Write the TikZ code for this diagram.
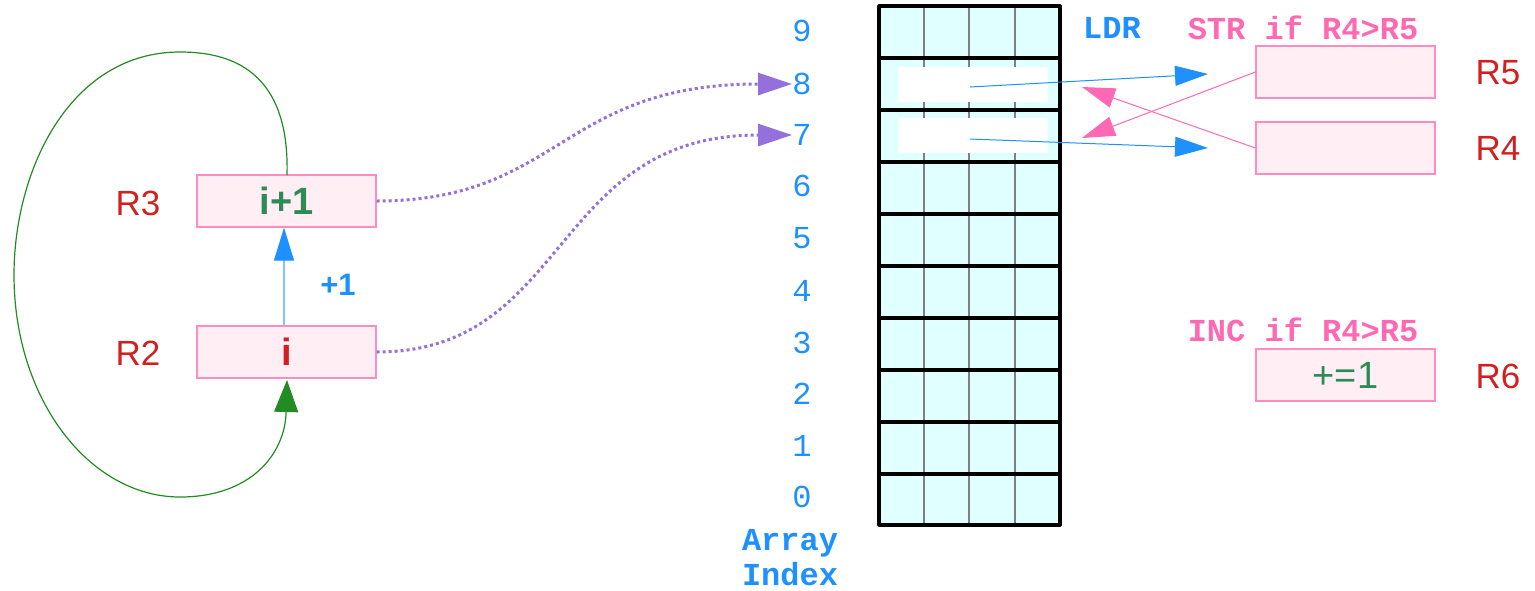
\documentclass[tikz,border=0pt]{standalone}
\usepackage{fontspec}
\setmainfont{Liberation Sans}
\setmonofont{Liberation Mono}
\usetikzlibrary{arrows.meta}
\definecolor{cellfill}{HTML}{E0FFFF}
\definecolor{regfill}{HTML}{FFEEF3}
\definecolor{regline}{HTML}{FF8CC0}
\definecolor{hotpink}{HTML}{FF69B4}
\definecolor{dblue}{HTML}{1E90FF}
\definecolor{fgreen}{HTML}{228B22}
\definecolor{sgreen}{HTML}{2E8B57}
\definecolor{regred}{HTML}{D02020}
\definecolor{mpurple}{HTML}{9370DB}
\tikzset{
  reg/.style={draw=regline, fill=regfill, line width=0.6pt, minimum width=89.5pt, minimum height=26pt, inner sep=0pt},
  reglabel/.style={text=regred, font=\fontsize{17.5}{20}\selectfont},
  idx/.style={text=dblue, font=\ttfamily\fontsize{16}{18}\selectfont},
  cmd/.style={font=\ttfamily\bfseries\fontsize{16}{18}\selectfont},
  bluearrow/.style={draw=dblue, line width=0.5pt, -{Triangle[length=16.5pt,width=10pt]}},
  pinkarrow/.style={draw=hotpink, line width=0.5pt, -{Triangle[length=16.5pt,width=10pt]}},
  ptr/.style={draw=mpurple, line width=1.5pt, dash pattern=on 1.5pt off 1.5pt, -{Triangle[length=17pt,width=11pt]}},
}
\begin{document}
\begin{tikzpicture}[x=0.5pt, y=-0.5pt]
\useasboundingbox (0,0) rectangle (1535,590);

% memory array: ten rows of four cells
\fill[cellfill] (879,6) rectangle (1060,525);
\foreach \x in {924,969,1015}
  \draw[gray, line width=0.6pt] (\x,6) -- (\x,525);
% highlighted slots in rows 8 and 7
\fill[white] (898,67) rectangle (1048,102);
\fill[white] (898,118) rectangle (1048,153);
\foreach \y in {58,110,162,214,266,318,370,422,474}
  \draw[black, line width=1.6pt] (879,\y) -- (1060,\y);
\draw[black, line width=1.6pt, line join=round] (879,6) rectangle (1060,525);

% index column
\foreach \i/\y in {9/31,8/84,7/135,6/186,5/238,4/291,3/343,2/394,1/446,0/497}
  \node[idx] (idx\i) at (802,\y) {\i};
\node[idx, font=\ttfamily\bfseries\fontsize{16}{17.5}\selectfont, align=center] (arrlbl) at (790,558) {Array\\Index};

% registers
\node[reg] (r3) at (286.5,201) {\textcolor{sgreen}{\fontsize{19}{20}\selectfont\bfseries i+1}};
\node[reg] (r2) at (286.5,352) {\textcolor{regred}{\fontsize{19}{20}\selectfont\bfseries i}};
\node[reg] (r5) at (1345.5,72) {};
\node[reg] (r4) at (1345.5,148) {};
\node[reg] (r6) at (1345.5,375) {\textcolor{sgreen}{\fontsize{19}{20}\selectfont +=1}};

\node[reglabel] (l3) at (138,203) {R3};
\node[reglabel] (l2) at (138,353) {R2};
\node[reglabel] (l5) at (1498,73) {R5};
\node[reglabel] (l4) at (1498,148) {R4};
\node[reglabel] (l6) at (1498,376) {R6};

% instruction captions
\node[cmd, text=dblue] (ldr) at (1112,28) {LDR};
\node[cmd, text=hotpink] (str) at (1303,28) {STR if R4>R5};
\node[cmd, text=hotpink] (inc) at (1303,330) {INC if R4>R5};
\node[text=dblue, font=\bfseries\fontsize{15.5}{17}\selectfont] (plus) at (338,285) {+1};

% increment R2 -> R3
\draw[draw=dblue!55, line width=0.6pt, -{Triangle[length=16.5pt,width=10pt,color=dblue]}] (r2.north -| 284,0) -- (r3.south -| 284,0);

% loop back R3 -> R2
\coordinate (r3top) at (287,175);
\coordinate (r2bot) at (287,380);
\draw[fgreen, line width=0.6pt, -{Triangle[length=16pt,width=12pt]}]
  (r3top) .. controls (290,70) and (230,52) .. (180,52)
  .. controls (70,52) and (14,170) .. (14,275)
  .. controls (14,400) and (90,497) .. (180,497)
  .. controls (250,497) and (285,455) .. (r2bot);

% pointers into the array
\coordinate (tip8) at (792,84);
\coordinate (tip7) at (792,135);
\draw[ptr] (r3.east) .. controls (560,201) and (560,84) .. (tip8);
\draw[ptr] (r2.east) .. controls (570,352) and (550,135) .. (tip7);

% loads from rows 8 and 7
\coordinate (c8) at (970,87);
\coordinate (c7) at (970,139);
\coordinate (ld5) at (1208,74);
\coordinate (ld4) at (1208,148);
\draw[bluearrow] (c8) -- (ld5);
\draw[bluearrow] (c7) -- (ld4);

% conditional stores, swapped
\coordinate (st7) at (1082,138);
\coordinate (st8) at (1082,87);
\draw[pinkarrow] (r5.west) -- (st7);
\draw[pinkarrow] (r4.west) -- (st8);
\end{tikzpicture}
\end{document}
